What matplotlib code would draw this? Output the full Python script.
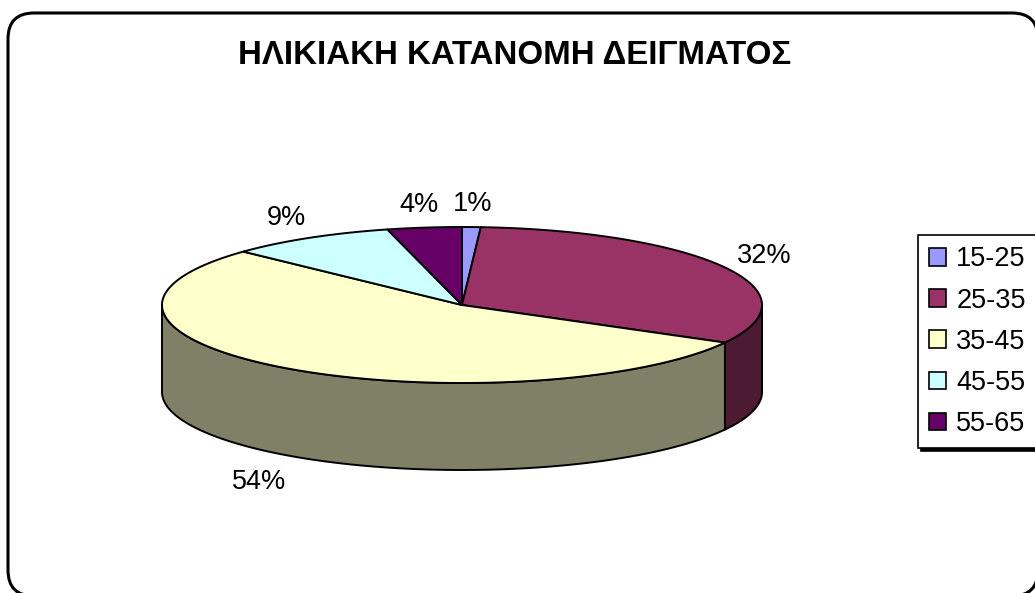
# 3D-looking pie of the sample's age distribution (Excel style)

import numpy as np
import matplotlib.pyplot as plt
from matplotlib.patches import Polygon, Patch, FancyBboxPatch
from matplotlib.colors import to_rgb

plt.rcParams['font.family'] = ['Liberation Sans', 'DejaVu Sans']

title = 'ΗΛΙΚΙΑΚΗ ΚΑΤΑΝΟΜΗ ΔΕΙΓΜΑΤΟΣ'
age_groups = ['15-25', '25-35', '35-45', '45-55', '55-65']
shares = [1, 32, 54, 9, 4]
colors = ['#9999FF', '#993366', '#FFFFCC', '#CCFFFF', '#660066']

# pie geometry in pixel units (centre, half axes, thickness)
cx, cy, rx, ry, depth = 462, 305, 300, 78, 87


def edge(theta):
    # theta in degrees, clockwise from 12 o'clock
    t = np.radians(theta)
    return cx + rx * np.sin(t), cy - ry * np.cos(t)


fig = plt.figure(figsize=(10.35, 5.93), dpi=100)
ax = fig.add_axes([0, 0, 1, 1])
ax.set_xlim(0, 1035)
ax.set_ylim(593, 0)
ax.axis('off')

# chart frame with rounded corners
ax.add_patch(FancyBboxPatch((8, 13), 1030, 583, boxstyle='round,pad=0,rounding_size=26',
                            facecolor='white', edgecolor='black', linewidth=2.2, zorder=0))

cum = np.concatenate([[0], np.cumsum(shares)]) / sum(shares) * 360

# side walls (only the front half is visible)
for i, col in enumerate(colors):
    lo, hi = max(cum[i], 90), min(cum[i + 1], 270)
    if hi <= lo:
        continue
    x, y = edge(np.linspace(lo, hi, 150))
    pts = np.column_stack([np.r_[x, x[::-1]], np.r_[y, y[::-1] + depth]])
    dark = tuple(c * 0.5 for c in to_rgb(col))
    ax.add_patch(Polygon(pts, closed=True, facecolor=dark, edgecolor='black',
                         linewidth=1.4, joinstyle='round', zorder=2))

# top faces
for i, col in enumerate(colors):
    x, y = edge(np.linspace(cum[i], cum[i + 1], 300))
    pts = np.column_stack([np.r_[cx, x], np.r_[cy, y]])
    ax.add_patch(Polygon(pts, closed=True, facecolor=col, edgecolor='black',
                         linewidth=1.4, joinstyle='round', zorder=3))

# percentage labels
for i, v in enumerate(shares):
    mid = np.radians((cum[i] + cum[i + 1]) / 2)
    lx = cx + (rx + 45) * np.sin(mid)
    ly = cy - (ry + 23) * np.cos(mid)
    if 90 < np.degrees(mid) < 270:
        ly += depth + 8
    ax.text(lx, ly, f'{v}%', fontsize=19.5, ha='center', va='center', zorder=4)

ax.text(515, 56, title, fontsize=23.8, fontweight='bold', ha='center', va='center')

handles = [Patch(facecolor=c, edgecolor='black', linewidth=1.2) for c in colors]
leg = ax.legend(handles, age_groups, loc='upper left',
                bbox_to_anchor=(918 / 1035, 1 - 235 / 593), borderaxespad=0,
                prop={'family': 'Liberation Sans', 'size': 19.5},
                handlelength=0.62, handleheight=0.62,
                handletextpad=0.37, labelspacing=0.56, borderpad=0.42,
                fancybox=False, shadow={'color': 'black', 'ox': 2, 'oy': -2, 'alpha': 1})
leg.get_frame().set_edgecolor('black')
leg.get_frame().set_linewidth(1.2)

fig.savefig('out.png', dpi=100)
